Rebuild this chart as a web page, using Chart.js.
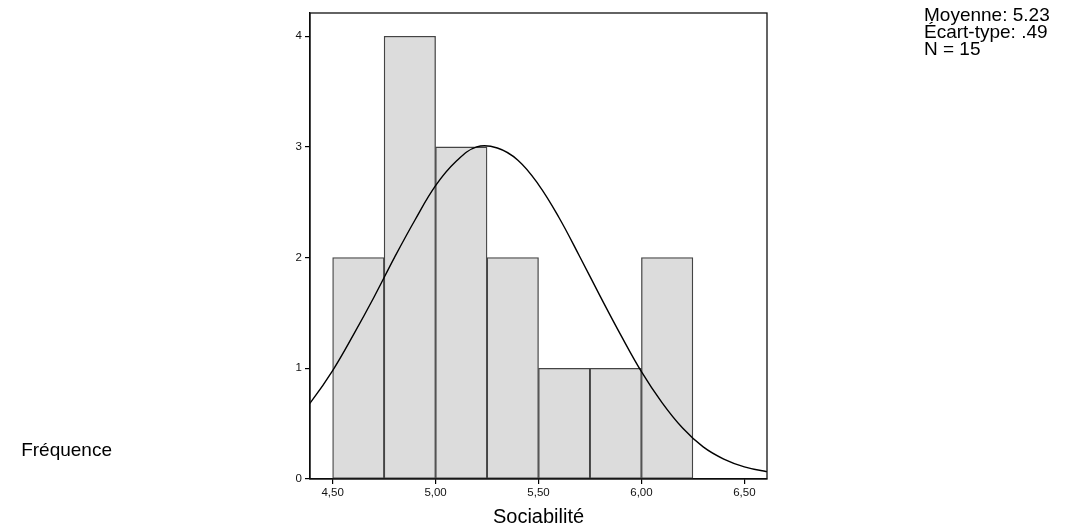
<!DOCTYPE html>
<html>
<head>
<meta charset="utf-8">
<script src="https://cdn.jsdelivr.net/npm/chart.js@4/dist/chart.umd.min.js"></script>
<style>
  html, body { margin: 0; padding: 0; background: #ffffff; }
  canvas { display: block; }
</style>
</head>
<body>
<canvas id="hist" width="1068" height="529"></canvas>
<script>
// Histogram bins (class limits) and their frequencies
const binEdges = [4.50, 4.75, 5.00, 5.25, 5.50, 5.75, 6.00, 6.25];
const counts = [2, 4, 3, 2, 1, 1, 2];

// Fitted normal curve, sampled every 0.1 (the ends are clipped by the plot frame)
const curveX = [4.3, 4.4, 4.5, 4.6, 4.7, 4.8, 4.9, 5.0, 5.1, 5.2, 5.3, 5.4, 5.5,
                5.6, 5.7, 5.8, 5.9, 6.0, 6.1, 6.2, 6.3, 6.4, 6.5, 6.6, 6.7];
const curveY = [0.48, 0.71, 0.98, 1.30, 1.64, 2.00, 2.34, 2.65, 2.87, 3.00, 2.99, 2.88, 2.66,
                2.36, 2.01, 1.65, 1.30, 0.97, 0.69, 0.46, 0.29, 0.18, 0.11, 0.07, 0.045];

// Axis ticks
const xTickValues = [4.5, 5.0, 5.5, 6.0, 6.5];
const xTickLabels = ['4,50', '5,00', '5,50', '6,00', '6,50'];
const yTickValues = [0, 1, 2, 3, 4];
const yTickLabels = ['0', '1', '2', '3', '4'];

// Summary statistics and axis titles
const statsLines = ['Moyenne: 5.23', 'Écart-type: .49', 'N = 15'];
const xTitle = 'Sociabilité';
const yTitle = 'Fréquence';

const FONT = '"Liberation Sans", Arial, Helvetica, sans-serif';

const barData = counts.map((c, i) => ({ x: (binEdges[i] + binEdges[i + 1]) / 2, y: c }));
const curveData = curveX.map((x, i) => ({ x: x, y: curveY[i] }));

// Frame around the plot area plus the free-standing labels
const framePlugin = {
  id: 'frameAndLabels',
  afterDatasetsDraw(chart) {
    const { ctx, chartArea: a } = chart;
    ctx.save();
    ctx.strokeStyle = '#111';
    ctx.lineWidth = 1.3;
    ctx.strokeRect(a.left, a.top, a.right - a.left, a.bottom - a.top);
    ctx.restore();
  },
  afterDraw(chart) {
    const ctx = chart.ctx;
    ctx.save();
    ctx.fillStyle = '#000';
    ctx.textAlign = 'left';
    ctx.textBaseline = 'alphabetic';
    ctx.font = '19px ' + FONT;
    statsLines.forEach((t, i) => ctx.fillText(t, 924, 21 + i * 17));
    ctx.textAlign = 'right';
    ctx.fillText(yTitle, 112, 456);
    ctx.restore();
  }
};

new Chart(document.getElementById('hist'), {
  type: 'bar',
  data: {
    datasets: [
      {
        type: 'line',
        data: curveData,
        borderColor: '#000',
        borderWidth: 1.4,
        pointRadius: 0,
        tension: 0.4,
        fill: false,
        order: 0
      },
      {
        type: 'bar',
        data: barData,
        backgroundColor: '#dcdcdc',
        borderColor: '#444',
        borderWidth: 1.3,
        borderSkipped: false,
        barPercentage: 1,
        categoryPercentage: 1,
        grouped: false,
        order: 1
      }
    ]
  },
  options: {
    responsive: false,
    animation: false,
    devicePixelRatio: 1,
    layout: { padding: { left: 270, right: 301, top: 13, bottom: 0 } },
    plugins: { legend: { display: false }, tooltip: { enabled: false } },
    scales: {
      x: {
        type: 'linear',
        min: 4.39,
        max: 6.61,
        offset: false,
        grid: { offset: false, drawOnChartArea: false, drawTicks: true, tickLength: 5, color: '#000', lineWidth: 1.2 },
        border: { display: true, color: '#000', width: 1.3 },
        afterBuildTicks: s => { s.ticks = xTickValues.map(v => ({ value: v })); },
        afterFit: s => { s.height = 50; },
        ticks: {
          autoSkip: false,
          maxRotation: 0,
          padding: 2,
          color: '#111',
          font: { family: FONT, size: 11.5 },
          callback: (v, i) => xTickLabels[i]
        },
        title: {
          display: true,
          text: xTitle,
          color: '#000',
          font: { family: FONT, size: 20 },
          padding: { top: 0, bottom: 0 }
        }
      },
      y: {
        type: 'linear',
        min: 0,
        max: 4.21,
        grid: { drawOnChartArea: false, drawTicks: true, tickLength: 5, color: '#000', lineWidth: 1.2 },
        border: { display: true, color: '#000', width: 1.3 },
        afterBuildTicks: s => { s.ticks = yTickValues.map(v => ({ value: v })); },
        afterFit: s => { s.width = 40; },
        ticks: {
          padding: 3,
          color: '#111',
          font: { family: FONT, size: 11.5 },
          callback: (v, i) => yTickLabels[i]
        }
      }
    }
  },
  plugins: [framePlugin]
});
</script>
</body>
</html>
